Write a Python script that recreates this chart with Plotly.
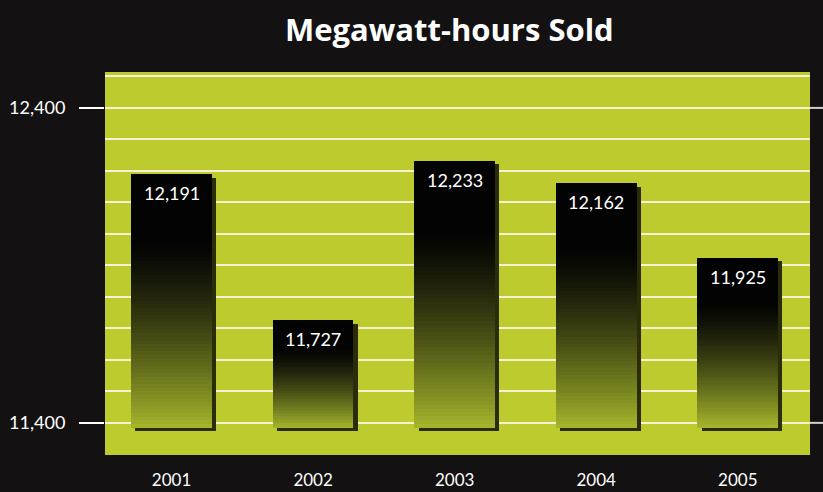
import plotly.graph_objects as go

years = ["2001", "2002", "2003", "2004", "2005"]
mwh = [12191, 11727, 12233, 12162, 11925]
y_tick_vals = [11400, 12400]
title_text = "Megawatt-hours Sold"

BASE = 11385
N = 70
x = list(range(len(years)))
bottom_rgb = (166, 182, 44)

def seg_color(t):
    # t = 0 at bar bottom, 1 at top
    f = max(0.0, 1 - t / 0.75)
    f = f ** 1.4
    r, g, b = (int(c * f + 3 * (1 - f)) for c in bottom_rgb)
    return f"rgb({r},{g},{b})"

fig = go.Figure()

# shadow
fig.add_trace(go.Bar(
    x=[xi + 0.03 for xi in x],
    y=[v - BASE for v in mwh],
    base=[BASE - 12] * len(x),
    width=0.57,
    marker=dict(color="#2b2d0a", line=dict(width=0)),
    hoverinfo="skip", showlegend=False,
))

for i in range(N):
    t0 = i / N
    t1 = (i + 1) / N
    bases = [BASE + (v - BASE) * t0 for v in mwh]
    lens = [(v - BASE) * (t1 - t0) * 1.02 if i < N - 1 else (v - BASE) * (t1 - t0) for v in mwh]
    fig.add_trace(go.Bar(
        x=x, y=lens, base=bases, width=0.57,
        marker=dict(color=seg_color((t0 + t1) / 2), line=dict(width=0)),
        hoverinfo="skip", showlegend=False,
    ))

for xi, v in zip(x, mwh):
    fig.add_annotation(
        x=xi, y=v, xref="x", yref="y", text=f"{v:,}", showarrow=False,
        yanchor="top", yshift=-6,
        font=dict(family="Lato", size=18, color="white"),
    )

for tv in y_tick_vals:
    fig.add_shape(type="line", xref="paper", yref="y", x0=1, x1=1.03, y0=tv, y1=tv,
                  line=dict(color="#cfcfcf", width=2), layer="below")

fig.update_layout(
    width=823, height=492,
    margin=dict(l=105, r=13, t=72, b=37, autoexpand=False),
    paper_bgcolor="#141112",
    plot_bgcolor="#bdcb2f",
    barmode="overlay",
    bargap=0,
    showlegend=False,
    title=dict(text=f"<b>{title_text}</b>", x=0.546, xanchor="center", y=0.938, yanchor="middle",
               yref="container", automargin=False,
               font=dict(family="Open Sans", size=31, color="white")),
    xaxis=dict(
        range=[-0.47, 4.51], tickvals=x, ticktext=years, showgrid=False, zeroline=False,
        ticks="", ticklabelstandoff=13, automargin=False,
        tickfont=dict(family="Lato", size=17, color="white"), fixedrange=True,
    ),
    yaxis=dict(
        range=[11298, 12514], tick0=11400, dtick=1000, tickformat=",d",
        ticks="outside", ticklen=25, tickwidth=2, tickcolor="white",
        ticklabelstandoff=10, automargin=False,
        showgrid=True, gridcolor="#f4f2d2", gridwidth=2, zeroline=False,
        minor=dict(dtick=100, tick0=11400, showgrid=True, gridcolor="#f4f2d2", gridwidth=2, ticks=""),
        tickfont=dict(family="Lato", size=18, color="white"), fixedrange=True,
    ),
)

fig.write_html("out.html", config={"displayModeBar": False},
               post_script="document.body.style.margin='0';document.body.style.background='#141112';")
